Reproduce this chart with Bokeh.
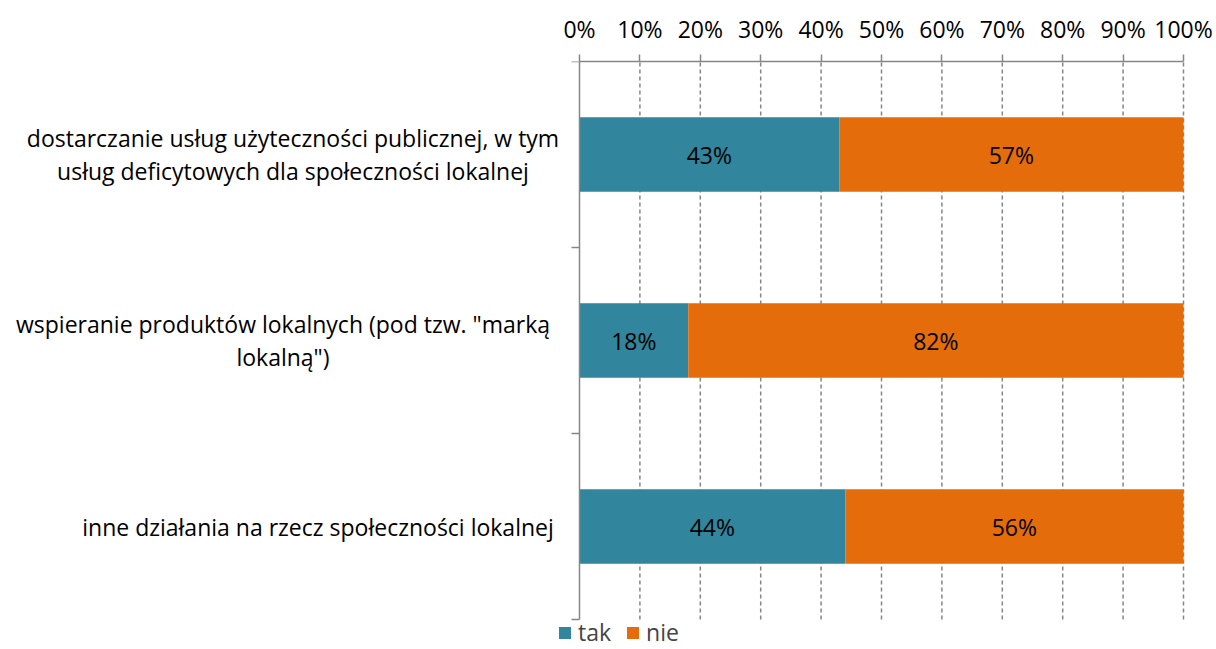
import math
from bokeh.plotting import figure
from bokeh.models import (Range1d, LinearAxis, FixedTicker, Legend, LegendItem,
                          ColumnDataSource, Label)
from bokeh.embed import file_html
from bokeh.resources import INLINE
from bokeh.core.properties import value

categories = [
    "dostarczanie usług użyteczności publicznej, w tym\nusług deficytowych dla społeczności lokalnej",
    "wspieranie produktów lokalnych (pod tzw. \"marką\nlokalną\")",
    "inne działania na rzecz społeczności lokalnej",
]
tak = [43, 18, 44]
nie = [57, 82, 56]
x_ticks = [0, 10, 20, 30, 40, 50, 60, 70, 80, 90, 100]
series_names = ["tak", "nie"]

# layout constants (pixels)
W, H = 1216, 649
AXIS_X = 579          # screen x of 0 %
PLOT_R = 1183         # screen x of 100 %
TOP = 61              # screen y of the top axis
BOT = 619             # screen y of the plot bottom
FRAME_R = 1186
label_block_widths = [525, 545, 475]

TEAL = "#31859C"
ORANGE = "#E46C0A"
GRID = "#868686"
FONT = "Open Sans"
FS = "23px"

n = len(categories)
ypos = [n - 0.5 - i for i in range(n)]

pxu = (PLOT_R - AXIS_X) / 100.0
x_min = -AXIS_X / pxu
x_max = (FRAME_R - AXIS_X) / pxu
pyu = (BOT - TOP) / n
y_min = -(H - BOT) / pyu

p = figure(width=W, height=H, output_backend="svg", toolbar_location=None,
           x_range=Range1d(x_min, x_max), y_range=Range1d(y_min, n),
           x_axis_location=None, y_axis_location=None,
           min_border_left=0, min_border_right=W - FRAME_R, min_border_top=TOP,
           min_border_bottom=0)
p.outline_line_color = None
p.background_fill_color = "white"
p.xgrid.grid_line_color = None
p.ygrid.grid_line_color = None

# dashed vertical gridlines
gx = x_ticks[1:]
p.segment(x0=gx, x1=gx, y0=[0] * len(gx), y1=[n] * len(gx),
          line_color=GRID, line_width=1.5, line_dash="4 3")

src = ColumnDataSource(dict(
    y=ypos,
    tak_end=[t for t in tak],
    nie_end=[t + v for t, v in zip(tak, nie)],
    tak_mid=[t / 2 for t in tak],
    nie_mid=[t + v / 2 for t, v in zip(tak, nie)],
    tak_lab=[f"{t}%" for t in tak],
    nie_lab=[f"{v}%" for v in nie],
))

r_tak = p.hbar(y="y", left=0, right="tak_end", height=0.4, source=src,
               fill_color=TEAL, line_color=None)
r_nie = p.hbar(y="y", left="tak_end", right="nie_end", height=0.4, source=src,
               fill_color=ORANGE, line_color=None)

for col in ("tak", "nie"):
    p.text(x=f"{col}_mid", y="y", text=f"{col}_lab", source=src, text_align="center",
           text_baseline="middle", text_font=value(FONT), text_font_size=FS,
           text_color="black")

# left axis line and category-boundary ticks
p.segment(x0=[x_ticks[0]], x1=[x_ticks[0]], y0=[0], y1=[n],
          line_color=GRID, line_width=1.5)
bounds_y = list(range(n + 1))
p.ray(x=[x_ticks[0]] * len(bounds_y), y=bounds_y, length=8, length_units="screen",
      angle=math.pi, line_color=GRID, line_width=1.5)

# top axis
xa = LinearAxis(ticker=FixedTicker(ticks=x_ticks), bounds=(x_ticks[0], x_ticks[-1]))
xa.major_label_overrides = {t: f"{t}%" for t in x_ticks}
xa.axis_line_color = GRID
xa.axis_line_width = 1.5
xa.major_tick_line_color = GRID
xa.major_tick_line_width = 1.5
xa.major_tick_out = 7
xa.major_tick_in = 0
xa.minor_tick_line_color = None
xa.major_label_standoff = 10
xa.major_label_text_font = FONT
xa.major_label_text_font_size = FS
xa.major_label_text_color = "black"
p.add_layout(xa, "above")

# category labels, lines centred, block right-aligned 24px left of axis
for c, y, w in zip(categories, ypos, label_block_widths):
    p.add_layout(Label(x=x_ticks[0], y=y, text=c, x_offset=-(24 + w / 2),
                       text_align="center", text_baseline="middle",
                       text_font=FONT, text_font_size=FS, text_color="black",
                       text_line_height=1.02))

legend = Legend(items=[LegendItem(label=series_names[0], renderers=[r_tak]),
                       LegendItem(label=series_names[1], renderers=[r_nie])],
                orientation="horizontal", location=(557, 1),
                label_text_font=FONT, label_text_font_size=FS,
                glyph_width=15, glyph_height=15, padding=0, margin=0,
                spacing=14, label_standoff=6, border_line_color=None,
                background_fill_alpha=0)
p.add_layout(legend, "center")

open("out.html", "w").write(file_html(p, INLINE))
